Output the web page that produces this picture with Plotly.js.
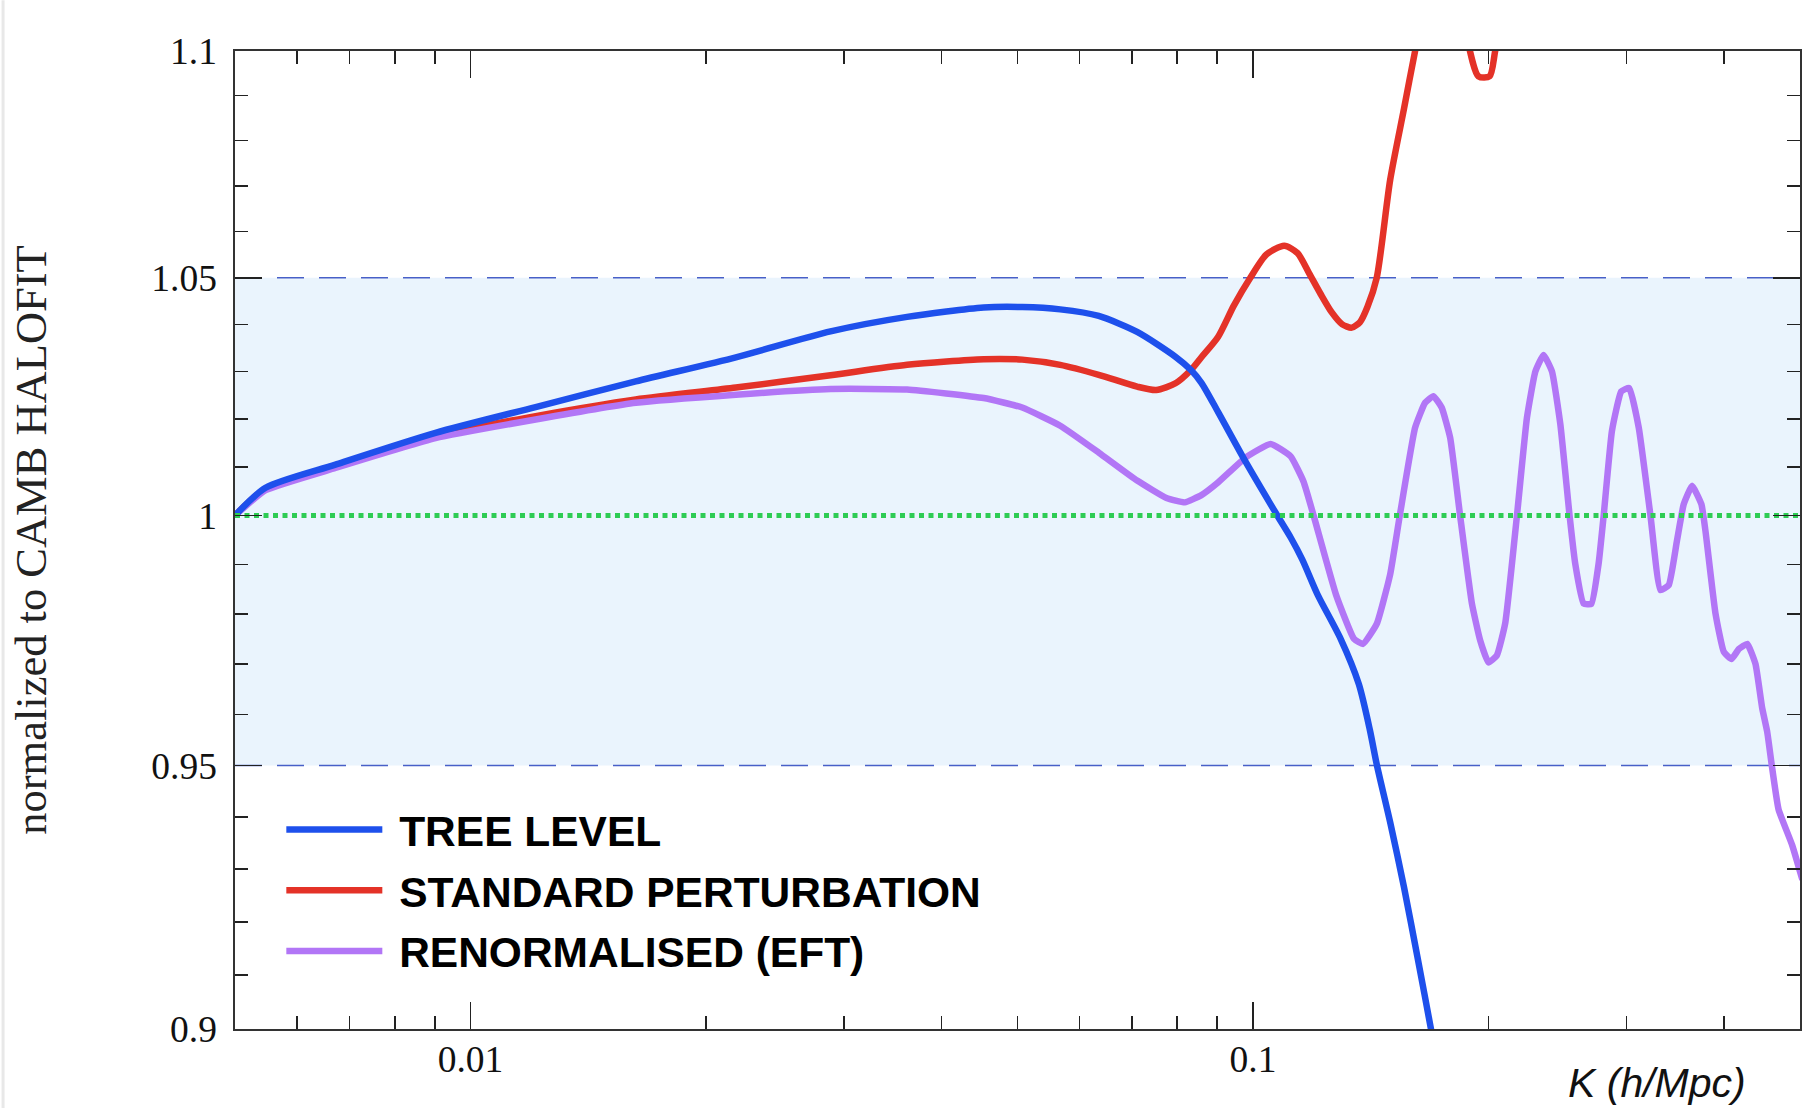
<!DOCTYPE html>
<html>
<head>
<meta charset="utf-8">
<script src="https://cdn.plot.ly/plotly-3.0.1.min.js"></script>
<style>
html,body{margin:0;padding:0;background:#fff;}
#chart{width:1807px;height:1108px;}
</style>
</head>
<body>
<div id="chart"></div>
<script>
// ---- data ----
const seriesNames = ['TREE LEVEL', 'STANDARD PERTURBATION', 'RENORMALISED (EFT)'];

const kTree = [0.005, 0.00547, 0.00672, 0.00902, 0.01211, 0.01626, 0.02183, 0.02884, 0.03613, 0.04526, 0.0507, 0.0567, 0.0635, 0.0711, 0.0796, 0.0833, 0.0859, 0.0902, 0.0979, 0.1074, 0.1117, 0.1156, 0.121, 0.1294, 0.1365, 0.141, 0.144, 0.1497, 0.1559, 0.1622, 0.1688, 0.175];
const rTree = [1.0000, 1.0057, 1.0105, 1.0171, 1.0225, 1.0279, 1.0330, 1.0385, 1.0416, 1.0436, 1.0437, 1.0432, 1.0418, 1.0384, 1.0331, 1.0303, 1.0276, 1.0215, 1.0110, 1.0000, 0.9955, 0.9910, 0.9838, 0.9750, 0.9660, 0.9570, 0.9500, 0.9390, 0.9266, 0.9134, 0.9000, 0.8870];

const kSPT = [0.005, 0.00547, 0.00672, 0.00902, 0.01211, 0.01626, 0.02183, 0.02884, 0.03613, 0.04526, 0.0507, 0.0567, 0.0635, 0.0711, 0.0752, 0.0796, 0.0833, 0.0859, 0.0902, 0.0945, 0.0992, 0.104, 0.1096, 0.114, 0.1179, 0.122, 0.126, 0.13, 0.1337, 0.137, 0.14, 0.1439, 0.1497, 0.1559, 0.1611, 0.166, 0.172, 0.178, 0.186, 0.1941, 0.2006, 0.2039, 0.207, 0.215, 0.23, 0.26];
const rSPT = [1.0000, 1.0055, 1.0100, 1.0165, 1.0206, 1.0241, 1.0266, 1.0292, 1.0314, 1.0326, 1.0325, 1.0314, 1.0293, 1.0268, 1.0261, 1.0275, 1.0303, 1.0330, 1.0373, 1.0440, 1.0500, 1.0550, 1.0569, 1.0553, 1.0510, 1.0465, 1.0426, 1.0400, 1.0393, 1.0405, 1.0437, 1.0500, 1.0713, 1.0870, 1.1000, 1.1110, 1.1220, 1.1200, 1.1060, 1.0943, 1.0943, 1.1000, 1.1055, 1.1200, 1.1400, 1.1700];

const kEFT = [0.005, 0.00547, 0.00672, 0.00902, 0.01211, 0.01626, 0.02183, 0.02884, 0.03613, 0.04526, 0.0507, 0.0567, 0.0635, 0.0711, 0.0775, 0.0818, 0.0859, 0.0902, 0.0979, 0.1053, 0.1117, 0.116, 0.1195, 0.1277, 0.1346, 0.1382, 0.1439, 0.1497, 0.154, 0.1611, 0.1659, 0.17, 0.1742, 0.1786, 0.1839, 0.1904, 0.1951, 0.1999, 0.2049, 0.21, 0.2174, 0.2239, 0.2295, 0.2351, 0.241, 0.247, 0.2538, 0.2581, 0.2645, 0.2706, 0.2764, 0.2806, 0.2875, 0.2955, 0.3025, 0.3111, 0.322, 0.3316, 0.3398, 0.3481, 0.3551, 0.364, 0.3741, 0.3786, 0.3899, 0.3996, 0.4088, 0.4178, 0.4281, 0.4386, 0.4473, 0.454, 0.4602, 0.4694, 0.4886, 0.5035];
const rEFT = [1.0000, 1.0052, 1.0098, 1.0160, 1.0199, 1.0234, 1.0251, 1.0263, 1.0262, 1.0244, 1.0224, 1.0186, 1.0130, 1.0072, 1.0036, 1.0027, 1.0042, 1.0068, 1.0120, 1.0148, 1.0122, 1.0070, 1.0000, 0.9838, 0.9750, 0.9740, 0.9780, 0.9880, 1.0000, 1.0182, 1.0234, 1.0248, 1.0224, 1.0161, 1.0000, 0.9821, 0.9747, 0.9703, 0.9717, 0.9781, 1.0000, 1.0203, 1.0300, 1.0335, 1.0300, 1.0189, 1.0000, 0.9901, 0.9821, 0.9820, 0.9901, 1.0000, 1.0175, 1.0258, 1.0265, 1.0182, 1.0000, 0.9848, 0.9858, 0.9948, 1.0023, 1.0061, 1.0023, 0.9968, 0.9801, 0.9724, 0.9710, 0.9730, 0.9740, 0.9700, 0.9613, 0.9566, 0.9500, 0.9415, 0.9346, 0.9280];

const kRange = [0.005, 0.5];
const bandLow = 0.95, bandHigh = 1.05, reference = 1.0;

const xTickVals = [0.01, 0.1];
const xTickText = ['0.01', '0.1'];
const xMinorVals = [0.006, 0.007, 0.008, 0.009, 0.02, 0.03, 0.04, 0.05, 0.06, 0.07, 0.08, 0.09, 0.2, 0.3, 0.4];
const yTickVals = [0.9, 0.95, 1, 1.05, 1.1];
const yTickText = ['0.9', '0.95', '1', '1.05', '1.1'];
const yMinorVals = [0.91, 0.92, 0.93, 0.94, 0.96, 0.97, 0.98, 0.99, 1.01, 1.02, 1.03, 1.04, 1.06, 1.07, 1.08, 1.09];

// ---- styles ----
const colTree = 'rgb(30,80,236)';
const colSPT = 'rgb(228,50,40)';
const colEFT = 'rgb(178,118,246)';
const lineW = 6.5;
const NB = '\u00a0';

const traces = [
  { // shaded tolerance band
    x: [kRange[0], kRange[1], kRange[1], kRange[0]],
    y: [bandLow, bandLow, bandHigh, bandHigh],
    mode: 'lines', fill: 'toself', fillcolor: 'rgb(234,244,253)',
    line: {width: 0}, hoverinfo: 'skip', showlegend: false
  },
  {
    x: kRange, y: [bandHigh, bandHigh], mode: 'lines',
    line: {color: 'rgb(72,96,200)', width: 1.6, dash: '27px,15px'},
    hoverinfo: 'skip', showlegend: false
  },
  {
    x: kRange, y: [bandLow, bandLow], mode: 'lines',
    line: {color: 'rgb(72,96,200)', width: 1.6, dash: '27px,15px'},
    hoverinfo: 'skip', showlegend: false
  },
  {
    x: kSPT, y: rSPT, mode: 'lines', name: NB + seriesNames[1],
    line: {color: colSPT, width: lineW, shape: 'spline', smoothing: 0.7}, legendrank: 2, legendgroup: 'b'
  },
  {
    x: kEFT, y: rEFT, mode: 'lines', name: NB + seriesNames[2],
    line: {color: colEFT, width: lineW, shape: 'spline', smoothing: 0.4}, legendrank: 3, legendgroup: 'c'
  },
  {
    x: kTree, y: rTree, mode: 'lines', name: NB + seriesNames[0],
    line: {color: colTree, width: lineW, shape: 'spline', smoothing: 0.7}, legendrank: 1, legendgroup: 'a'
  },
  {
    x: kRange, y: [reference, reference], mode: 'lines',
    line: {color: 'rgb(46,204,84)', width: 5, dash: '5px,4.5px'},
    hoverinfo: 'skip', showlegend: false
  }
];

const axisCommon = {
  showgrid: false, zeroline: false,
  showline: true, linecolor: '#333', linewidth: 1.6,
  mirror: 'ticks', ticks: 'inside', ticklen: 27, tickwidth: 1.6, tickcolor: '#222',
  tickfont: {family: 'Liberation Serif', size: 37.5, color: '#111'}
};

const layout = {
  width: 1807, height: 1108,
  margin: {l: 235, r: 7, t: 51, b: 79, pad: 0},
  paper_bgcolor: '#fff', plot_bgcolor: '#fff',
  showlegend: true,
  xaxis: Object.assign({}, axisCommon, {
    type: 'log', range: [Math.log10(kRange[0]), Math.log10(kRange[1])],
    tickmode: 'array', tickvals: xTickVals, ticktext: xTickText,
    ticklabelstandoff: -4,
    minor: {tickmode: 'array', tickvals: xMinorVals, ticks: 'inside', ticklen: 13, tickwidth: 1.6, tickcolor: '#222', showgrid: false}
  }),
  yaxis: Object.assign({}, axisCommon, {
    type: 'log', range: [Math.log10(0.9), Math.log10(1.1)],
    tickmode: 'array', tickvals: yTickVals, ticktext: yTickText,
    ticklabelstandoff: 9,
    minor: {tickmode: 'array', tickvals: yMinorVals, ticks: 'inside', ticklen: 13, tickwidth: 1.6, tickcolor: '#222', showgrid: false},
    title: {text: 'normalized to CAMB HALOFIT', font: {family: 'Liberation Serif', size: 44.5, color: '#222'}, standoff: 91}
  }),
  legend: {
    x: 0.0296, y: 0.239, xanchor: 'left', yanchor: 'top',
    bgcolor: 'rgba(0,0,0,0)', borderwidth: 0,
    font: {family: 'Liberation Sans', size: 42.5, color: '#000', weight: 'bold'},
    traceorder: 'grouped', tracegroupgap: 2.5, itemwidth: 96
  },
  annotations: [{
    text: 'K (h/Mpc)', xref: 'paper', yref: 'paper',
    x: 0.9668, y: -0.0552, xanchor: 'right', yanchor: 'middle', showarrow: false,
    font: {family: 'Liberation Sans', size: 41, color: '#111', style: 'italic'}
  }],
  shapes: [{
    type: 'line', xref: 'paper', yref: 'paper',
    x0: -0.1482, x1: -0.1482, y0: -0.081, y1: 1.052,
    line: {color: 'rgb(232,232,232)', width: 3}
  }]
};

Plotly.newPlot('chart', traces, layout, {displayModeBar: false, staticPlot: true});
</script>
</body>
</html>
